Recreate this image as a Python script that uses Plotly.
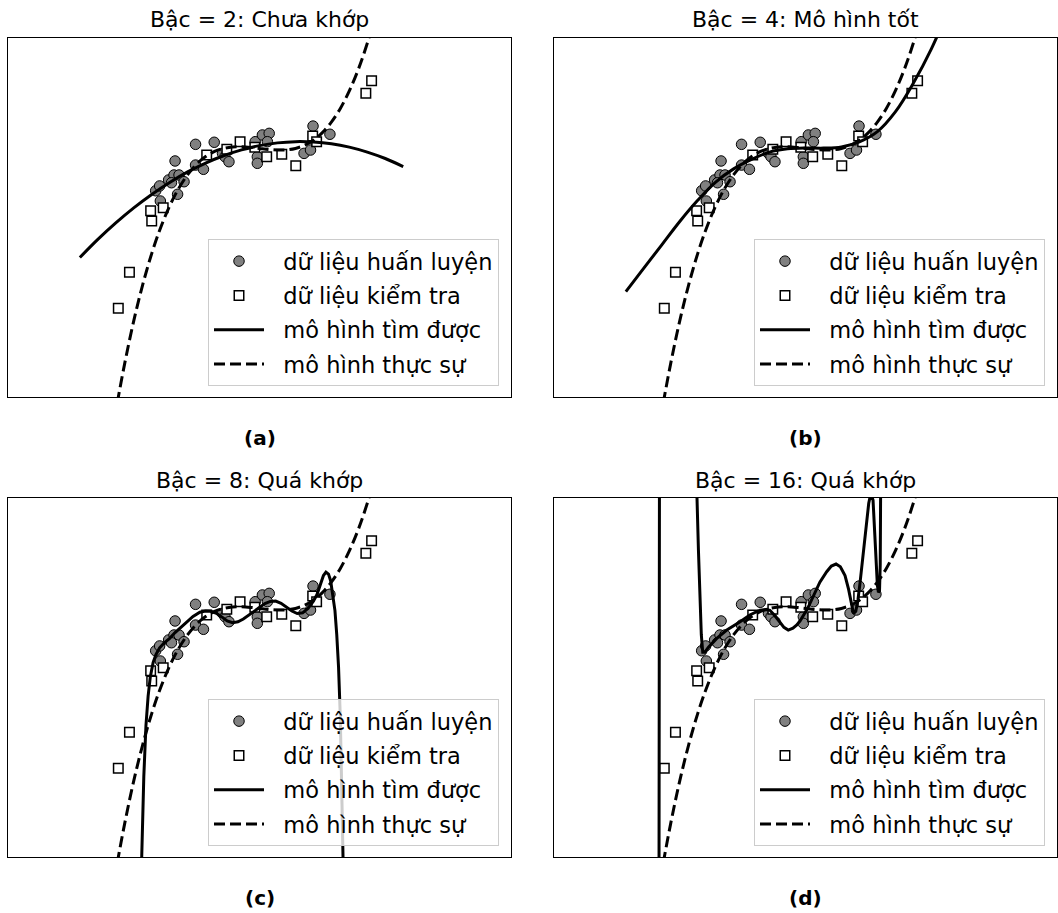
import plotly.graph_objects as go

# ---------------- data ----------------
x_train = [1.22, 1.74, 0.65, 1.22, 1.44, 0.11, 0.22, 0.47, 0.62, 0.76, 0.55, 0.90, 0.72, 0.24,
           1.97, 2.04, 2.15, 2.88, 3.08, 3.27, 3.22, 2.94, 2.94, 4.49, 4.96, 4.24, 4.42]
y_train = [2.8, 4.2, -8.6, -11.4, -14.3, -29.0, -25.7, -21.6, -18.2, -18.2, -23.5, -22.8, -31.4, -36.0,
           -3.4, -5.7, -9.1, 4.6, 9.2, 10.3, 4.6, -5.7, -10.2, 15.3, 9.7, -3.4, -1.1]

x_test = [6.12, 5.96, 4.48, 4.59, 2.46, 2.87, 1.53, 2.09, 3.20, 3.62, 4.01, -0.03, 0.32, 0.00, -0.62, -0.93]
y_test = [46.3, 37.7, 8.5, 4.6, 4.6, 0.8, -4.5, -0.6, -5.7, -4.0, -11.8, -42.6, -40.6, -49.7, -84.8, -109.4]

x_true = [-1.25, -1.0, -0.75, -0.5, -0.25, 0.0, 0.25, 0.5, 0.75, 1.0, 1.25, 1.5, 1.75, 2.0, 2.25, 2.5,
          2.75, 3.0, 3.25, 3.5, 3.75, 4.0, 4.25, 4.5, 4.75, 5.0, 5.25, 5.5, 5.75, 6.0, 6.25, 6.5]
y_true = [-217.5, -180.0, -147.0, -118.1, -93.2, -72.0, -54.1, -39.4, -27.4, -18.0, -10.8, -5.6, -2.1, 0.0,
          0.98, 1.1, 0.7, 0.0, -0.7, -1.1, -0.98, 0.0, 2.1, 5.6, 10.8, 18.0, 27.4, 39.4, 54.1, 72.0, 93.2, 118.1]

x_fit2 = [-2.0, -1.5, -1.0, -0.5, 0.0, 0.5, 1.0, 1.5, 2.0, 2.5, 3.0, 3.5, 4.0, 4.5, 5.0, 5.5, 6.0, 6.5, 7.0]
y_fit2 = [-74.7, -62.3, -51.0, -40.7, -31.5, -23.3, -16.1, -10.0, -5.0, -1.0, 1.9, 3.8, 4.65, 4.4, 3.2, 0.9,
          -2.5, -6.9, -12.4]

x_fit4 = [-2.0, -1.5, -1.0, -0.5, 0.0, 0.5, 1.0, 1.5, 2.0, 2.5, 3.0, 3.5, 4.0, 4.5, 5.0, 5.5, 6.0, 6.5, 7.0]
y_fit4 = [-98.0, -82.0, -66.0, -50.0, -35.5, -23.0, -14.0, -7.5, -2.5, -0.3, 0.3, 0.2, 1.0, 4.5, 11.5, 25.0,
          44.6, 68.0, 96.0]

x_fit8 = [-0.32, -0.28, -0.22, -0.16, -0.10, -0.04, 0.04, 0.12, 0.22, 0.35, 0.5, 0.65, 0.8, 0.97, 1.15, 1.34,
          1.5, 1.65, 1.8, 1.95, 2.1, 2.25, 2.4, 2.55, 2.7, 2.85, 3.0, 3.15, 3.3, 3.45, 3.6, 3.75, 3.9, 4.05,
          4.2, 4.35, 4.5, 4.6, 4.7, 4.78, 4.85, 4.92, 4.98, 5.04, 5.1, 5.15, 5.2, 5.25, 5.3, 5.34]
y_fit8 = [-210, -170, -115, -80, -60, -47, -37, -31.5, -27, -23.5, -20.5, -16.5, -13, -9.5, -5.5, -2.6,
          -1.8, -2.0, -3.3, -5.8, -8.6, -9.8, -9.2, -7.3, -4.6, -1.8, 1.0, 3.3, 4.8, 5.0, 3.5, 1.0, -1.8, -3.5,
          -3.0, 0.0, 5.0, 9.5, 16.0, 22.5, 24.8, 23.5, 19.0, 10.0, -1.5, -18, -40, -75, -130, -190]

x_fit16 = [-1.40, -1.08, -1.06, -0.90, -0.08, -0.02, 0.02, 0.06, 0.10, 0.14, 0.20, 0.30, 0.53, 0.80, 1.00,
           1.18, 1.45, 1.73, 1.90, 2.01, 2.15, 2.29, 2.40, 2.52, 2.65, 2.75, 2.85, 3.05, 3.22, 3.40, 3.59,
           3.72, 3.85, 3.97, 4.10, 4.20, 4.29, 4.34, 4.40, 4.46, 4.52, 4.60, 4.68, 4.76, 4.82, 4.88, 4.93,
           4.97, 5.00, 5.03, 5.06, 5.08, 5.10, 5.14]
y_fit16 = [-600, -250, 200, 500, 300, 75.6, 40, 8, -18, -30, -30, -26.5, -20.5, -15, -12,
           -9.1, -4.5, -1.2, -0.8, -1.3, -5, -9.3, -13, -14.8, -13.5, -11.5, -8.5, -0.5, 8.8, 18, 25.1,
           29, 30.4, 28.5, 22.5, 13, 2, -3.5, -2, 6, 18, 36, 55, 72, 79, 74, 50,
           28, 16, 11, 12, 30, 90, 300]

titles = ["Bậc = 2: Chưa khớp", "Bậc = 4: Mô hình tốt", "Bậc = 8: Quá khớp", "Bậc = 16: Quá khớp"]
labels = ["(a)", "(b)", "(c)", "(d)"]
legend_names = ["dữ liệu huấn luyện", "dữ liệu kiểm tra", "mô hình tìm được", "mô hình thực sự"]
fits = [(x_fit2, y_fit2, "spline"), (x_fit4, y_fit4, "spline"),
        (x_fit8, y_fit8, "linear"), (x_fit16, y_fit16, "linear")]

# ---------------- layout geometry ----------------
W, H = 1058, 913
FONT = "DejaVu Sans"
x_doms = [[8 / W, 511 / W], [554 / W, 1057 / W]]
y_doms = [[1 - 397 / H, 1 - 38 / H], [1 - 857 / H, 1 - 498 / H]]
X_RANGE = [-4, 10]
Y_RANGE = [-170.2, 75.6]
PAD = "\u00a0\u00a0"  # gap between legend symbol and its text

fig = go.Figure()
layout = dict(
    width=W, height=H, margin=dict(l=0, r=0, t=0, b=0),
    plot_bgcolor="white", paper_bgcolor="white",
    font=dict(family=FONT, color="black"),
    annotations=[],
)

for i in range(4):
    row, col = divmod(i, 2)
    sfx = "" if i == 0 else str(i + 1)
    xa, ya = "x" + sfx, "y" + sfx
    leg = "legend" + sfx
    fx, fy, shp = fits[i]

    fig.add_trace(go.Scatter(
        x=x_train, y=y_train, mode="markers", name=PAD + legend_names[0],
        xaxis=xa, yaxis=ya, legend=leg, legendgroup=f"{i}a",
        marker=dict(symbol="circle", size=10.5, color="#808080", line=dict(color="black", width=1)),
    ))
    fig.add_trace(go.Scatter(
        x=x_test, y=y_test, mode="markers", name=PAD + legend_names[1],
        xaxis=xa, yaxis=ya, legend=leg, legendgroup=f"{i}b",
        marker=dict(symbol="square", size=9.5, color="white", line=dict(color="black", width=1.5)),
    ))
    fig.add_trace(go.Scatter(
        x=fx, y=fy, mode="lines", name=PAD + legend_names[2],
        xaxis=xa, yaxis=ya, legend=leg, legendgroup=f"{i}c",
        line=dict(color="black", width=3, shape=shp),
    ))
    fig.add_trace(go.Scatter(
        x=x_true, y=y_true, mode="lines", name=PAD + legend_names[3],
        xaxis=xa, yaxis=ya, legend=leg, legendgroup=f"{i}d",
        line=dict(color="black", width=3, dash="11px,5px", shape="spline"),
    ))

    axis_common = dict(showgrid=False, zeroline=False, showticklabels=False, ticks="",
                       showline=True, mirror=True, linecolor="black", linewidth=1)
    layout["xaxis" + sfx] = dict(domain=x_doms[col], range=X_RANGE, anchor=ya, **axis_common)
    layout["yaxis" + sfx] = dict(domain=y_doms[row], range=Y_RANGE, anchor=xa, **axis_common)

    legend_right = (499 + 546 * col) / W
    legend_bottom = 1 - (386 + 460 * row) / H
    layout[leg] = dict(
        x=legend_right, y=legend_bottom, xanchor="right", yanchor="bottom",
        xref="paper", yref="paper",
        bgcolor="rgba(255,255,255,0.8)", bordercolor="#cccccc", borderwidth=1,
        font=dict(family=FONT, size=22.5, color="black"), tracegroupgap=2, itemwidth=50,
    )

    cx = (x_doms[col][0] + x_doms[col][1]) / 2
    layout["annotations"].append(dict(
        text=titles[i], x=cx, y=y_doms[row][1] + 18 / H, xref="paper", yref="paper",
        xanchor="center", yanchor="middle", showarrow=False,
        font=dict(family=FONT, size=22, color="black"),
    ))
    layout["annotations"].append(dict(
        text="<b>" + labels[i] + "</b>", x=cx, y=y_doms[row][0] - 41 / H, xref="paper", yref="paper",
        xanchor="center", yanchor="middle", showarrow=False,
        font=dict(family=FONT, size=20, color="black"),
    ))

fig.update_layout(**layout)
fig.write_html("out.html")
